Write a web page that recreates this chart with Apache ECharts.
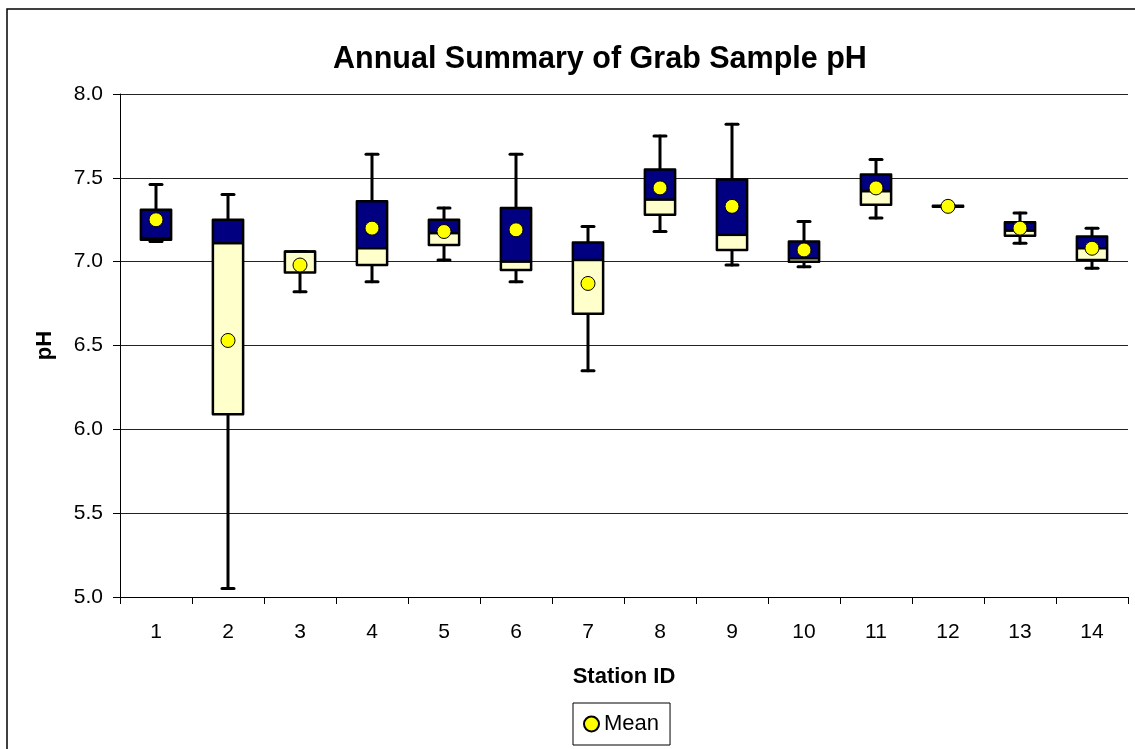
<!DOCTYPE html>
<html>
<head>
<meta charset="utf-8">
<script src="https://cdn.jsdelivr.net/npm/echarts@6/dist/echarts.min.js"></script>
<style>
  html, body { margin: 0; padding: 0; background: #fff; }
  #chart { width: 1135px; height: 749px; }
</style>
</head>
<body>
<div id="chart"></div>
<script>
// station ids on the x axis
const stations = ['1', '2', '3', '4', '5', '6', '7', '8', '9', '10', '11', '12', '13', '14'];

// box summary per station (pH)
const minVals    = [7.12, 5.05, 6.82, 6.88, 7.01, 6.88, 6.35, 7.18, 6.98, 6.97, 7.26, 7.325, 7.11, 6.96];
const q1Vals     = [7.13, 6.09, 6.935, 6.98, 7.10, 6.95, 6.69, 7.28, 7.07, 7.00, 7.34, 7.327, 7.155, 7.01];
const medianVals = [7.14, 7.11, 7.06, 7.08, 7.17, 7.00, 7.01, 7.37, 7.16, 7.02, 7.42, 7.33, 7.185, 7.08];
const q3Vals     = [7.31, 7.25, 7.06, 7.36, 7.25, 7.32, 7.115, 7.55, 7.49, 7.12, 7.52, 7.333, 7.235, 7.15];
const maxVals    = [7.46, 7.40, 7.06, 7.64, 7.32, 7.64, 7.21, 7.75, 7.82, 7.24, 7.61, 7.335, 7.29, 7.20];
const meanVals   = [7.25, 6.53, 6.98, 7.20, 7.18, 7.19, 6.87, 7.44, 7.33, 7.07, 7.44, 7.33, 7.20, 7.08];

const yTicks = [5.0, 5.5, 6.0, 6.5, 7.0, 7.5, 8.0];

const boxData = stations.map(function (s, i) {
  return [i, minVals[i], q1Vals[i], medianVals[i], q3Vals[i], maxVals[i]];
});

const chart = echarts.init(document.getElementById('chart'));

function renderBox(params, api) {
  const i = api.value(0);
  const lo = api.coord([i, api.value(1)]);
  const q1 = api.coord([i, api.value(2)]);
  const md = api.coord([i, api.value(3)]);
  const q3 = api.coord([i, api.value(4)]);
  const hi = api.coord([i, api.value(5)]);
  const band = api.size([1, 0])[0];
  const bw = band * 0.42;
  const cw = 12;
  const x = lo[0];
  const stroke = { stroke: '#000', lineWidth: 3, lineCap: 'round' };
  return {
    type: 'group',
    children: [
      { type: 'line', shape: { x1: x, y1: hi[1], x2: x, y2: q3[1] }, style: stroke },
      { type: 'line', shape: { x1: x, y1: q1[1], x2: x, y2: lo[1] }, style: stroke },
      { type: 'line', shape: { x1: x - cw / 2, y1: hi[1], x2: x + cw / 2, y2: hi[1] }, style: stroke },
      { type: 'line', shape: { x1: x - cw / 2, y1: lo[1], x2: x + cw / 2, y2: lo[1] }, style: stroke },
      { type: 'rect', shape: { x: x - bw / 2, y: md[1], width: bw, height: q1[1] - md[1] },
        style: { fill: '#FFFFCC' } },
      { type: 'rect', shape: { x: x - bw / 2, y: q3[1], width: bw, height: md[1] - q3[1] },
        style: { fill: '#000080' } },
      { type: 'line', shape: { x1: x - bw / 2, y1: md[1], x2: x + bw / 2, y2: md[1] },
        style: { stroke: '#000', lineWidth: 2.5 } },
      { type: 'rect', shape: { x: x - bw / 2, y: q3[1], width: bw, height: q1[1] - q3[1] },
        style: { fill: 'none', stroke: '#000', lineWidth: 2.5, lineJoin: 'round' } }
    ]
  };
}

const option = {
  animation: false,
  backgroundColor: '#fff',
  textStyle: { fontFamily: 'Liberation Sans, Arial, sans-serif', color: '#000' },
  title: {
    text: 'Annual Summary of Grab Sample pH',
    left: 333,
    top: 44,
    padding: 0,
    textStyle: { fontSize: 30.5, fontWeight: 'bold', color: '#000', fontFamily: 'Liberation Sans, Arial, sans-serif' }
  },
  graphic: [{
    type: 'rect',
    shape: { x: 7, y: 9, width: 1200, height: 800 },
    style: { fill: 'none', stroke: '#000', lineWidth: 1.5 },
    silent: true
  }],
  legend: {
    data: ['Mean'],
    left: 573,
    top: 703,
    padding: [10, 11, 10, 10],
    borderColor: '#000',
    borderWidth: 1,
    itemWidth: 15,
    itemHeight: 15,
    itemGap: 6,
    icon: 'circle',
    textStyle: { fontSize: 22, color: '#000', fontFamily: 'Liberation Sans, Arial, sans-serif' }
  },
  grid: { left: 120, right: 7, top: 94, bottom: 152 },
  xAxis: {
    type: 'category',
    data: stations,
    name: 'Station ID',
    nameLocation: 'middle',
    nameGap: 69,
    nameTextStyle: { fontSize: 22, fontWeight: 'bold', color: '#000' },
    axisLine: { lineStyle: { color: '#000', width: 1 } },
    axisTick: { show: true, length: 7, lineStyle: { color: '#000' } },
    axisLabel: { fontSize: 21, color: '#000', margin: 25 },
    splitLine: { show: false }
  },
  yAxis: {
    type: 'value',
    min: 5,
    max: 8,
    interval: 0.5,
    name: 'pH',
    nameLocation: 'middle',
    nameRotate: 90,
    nameGap: 64,
    nameTextStyle: { fontSize: 22, fontWeight: 'bold', color: '#000' },
    axisLine: { show: true, lineStyle: { color: '#000', width: 1 } },
    axisTick: { show: true, length: 7, lineStyle: { color: '#000' } },
    axisLabel: {
      fontSize: 21, color: '#000', margin: 17,
      formatter: function (v) { return yTicks.indexOf(v) >= 0 ? v.toFixed(1) : ''; }
    },
    splitLine: { show: true, lineStyle: { color: '#222', width: 1 } }
  },
  series: [
    {
      name: 'Box',
      type: 'custom',
      renderItem: renderBox,
      encode: { x: 0, y: [1, 2, 3, 4, 5] },
      data: boxData,
      z: 2
    },
    {
      name: 'Mean',
      type: 'scatter',
      data: meanVals,
      symbol: 'circle',
      symbolSize: 14,
      itemStyle: { color: '#FFFF00', borderColor: '#000', borderWidth: 1, opacity: 1 },
      z: 5
    }
  ]
};

chart.setOption(option);
</script>
</body>
</html>
